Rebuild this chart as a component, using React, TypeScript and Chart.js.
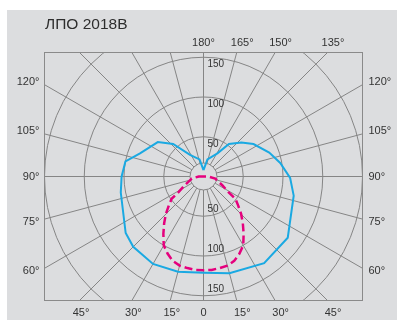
import React, { useEffect, useRef } from "react";
import { Chart, registerables } from "chart.js";

Chart.register(...registerables);

const TITLE = "ЛПО 2018В";

// Intensity curves: signed angle (0 = straight down, + = right side), value in cd
const blueAngles = [-180, -167, -148, -137, -127, -110, -101, -90, -79, -54, -45, -30, -15, 0, 15, 35, 54, 78, 89, 100, 110, 123, 132, 142, 149, 167, 180];
const blueValues = [8, 22, 32, 56, 72, 85, 100, 103, 106, 121, 125, 127, 124, 121, 126, 133, 131, 116, 109, 98, 88, 75, 64, 52, 34, 22, 8];

const pinkAngles = [-180, -90, -80, -65, -58, -55, -50, -45, -40, -35, -30, -25, -20, -15, -10, -5, 0, 5, 10, 15, 20, 25, 30, 35, 40, 45, 50, 55, 58, 65, 80, 90, 180];
const pinkValues = [0, 6, 15, 26, 37, 49, 57, 67, 77, 88, 100, 107, 113, 116, 117, 118, 118, 118, 117, 116, 113, 107, 100, 88, 77, 67, 57, 49, 37, 26, 15, 6, 0];

const angleTicks = [0, 15, 30, 45, 60, 75, 90, 105, 120, 135, 150, 165, 180];
const ringLines = [50, 100, 150, 200];
const ringLabels = [50, 100, 150];
const innerRing = 17;

const toXY = (angles: number[], values: number[]) =>
  angles.map((a, i) => {
    const r = (a * Math.PI) / 180;
    return { x: values[i] * Math.sin(r), y: -values[i] * Math.cos(r) };
  });

const FONT = '"Liberation Sans", Arial, sans-serif';

const polarPlugin = {
  id: "polarGrid",
  beforeDraw(chart: any) {
    const { ctx, width, height } = chart;
    ctx.save();
    ctx.fillStyle = "#ffffff";
    ctx.fillRect(0, 0, width, height);
    ctx.fillStyle = "#dcdddf";
    ctx.fillRect(7, 10, width - 7, height - 10);
    ctx.restore();
  },
  beforeDatasetsDraw(chart: any) {
    const { ctx, chartArea: ca, scales } = chart;
    const cx = scales.x.getPixelForValue(0);
    const cy = scales.y.getPixelForValue(0);
    const k = scales.x.getPixelForValue(1) - cx;
    ctx.save();
    ctx.beginPath();
    ctx.rect(ca.left, ca.top, ca.right - ca.left, ca.bottom - ca.top);
    ctx.clip();
    ctx.strokeStyle = "#858585";
    ctx.lineWidth = 1;
    for (const v of ringLines) {
      ctx.beginPath();
      ctx.arc(cx, cy, v * k, 0, Math.PI * 2);
      ctx.stroke();
    }
    ctx.beginPath();
    ctx.arc(cx, cy, innerRing * k, 0, Math.PI * 2);
    ctx.stroke();
    const r0 = innerRing * k;
    for (const a of angleTicks) {
      for (const s of [-1, 1]) {
        if ((a === 0 || a === 180) && s === -1) continue;
        const rad = (a * Math.PI) / 180;
        const dx = s * Math.sin(rad);
        const dy = Math.cos(rad);
        ctx.beginPath();
        ctx.moveTo(cx + dx * r0, cy + dy * r0);
        ctx.lineTo(cx + dx * 600, cy + dy * 600);
        ctx.stroke();
      }
    }
    ctx.restore();
  },
  afterDatasetsDraw(chart: any) {
    const { ctx, chartArea: ca, scales } = chart;
    const cx = scales.x.getPixelForValue(0);
    const cy = scales.y.getPixelForValue(0);
    const k = scales.x.getPixelForValue(1) - cx;
    ctx.save();
    ctx.strokeStyle = "#8a8a8a";
    ctx.lineWidth = 1;
    ctx.strokeRect(ca.left, ca.top, ca.right - ca.left, ca.bottom - ca.top);

    // radial value labels
    ctx.fillStyle = "#333333";
    ctx.font = `10px ${FONT}`;
    ctx.textAlign = "left";
    ctx.textBaseline = "middle";
    for (const v of ringLabels) {
      ctx.fillText(String(v), cx + 4, cy - v * k + 7);
      ctx.fillText(String(v), cx + 4, cy + v * k - 7);
    }

    // angle labels
    ctx.font = `11px ${FONT}`;
    for (const a of angleTicks) {
      for (const s of [-1, 1]) {
        if ((a === 0 || a === 180) && s === -1) continue;
        const rad = (a * Math.PI) / 180;
        const dx = s * Math.sin(rad);
        const dy = Math.cos(rad);
        const tx = Math.abs(dx) > 1e-9 ? (dx > 0 ? ca.right - cx : cx - ca.left) / Math.abs(dx) : Infinity;
        const ty = Math.abs(dy) > 1e-9 ? (dy > 0 ? ca.bottom - cy : cy - ca.top) / Math.abs(dy) : Infinity;
        const t = Math.min(tx, ty);
        const hx = cx + dx * t;
        const hy = cy + dy * t;
        const text = a === 0 ? "0" : `${a}°`;
        if (tx <= ty) {
          const yy = hy + Math.sign(hy - cy) * 3;
          if (dx < 0) {
            ctx.textAlign = "right";
            ctx.fillText(text, ca.left - 5, yy);
          } else {
            ctx.textAlign = "left";
            ctx.fillText(text, ca.right + 6, yy);
          }
        } else {
          // top edge carries labels only on the right half (title sits on the left)
          if (dy < 0 && dx < 0) continue;
          ctx.textAlign = "center";
          const off = a === 0 || a === 180 ? 0 : dx > 0 ? 5.5 : 1.5;
          const yy = dy > 0 ? ca.bottom + 12 : ca.top - 10;
          ctx.fillText(text, hx + off, yy);
        }
      }
    }

    // title
    ctx.font = `15.5px ${FONT}`;
    ctx.textAlign = "left";
    ctx.textBaseline = "alphabetic";
    ctx.fillStyle = "#2e2e2e";
    ctx.fillText(TITLE, 45, 29);
    ctx.restore();
  },
};

export default function App() {
  const ref = useRef<HTMLCanvasElement | null>(null);
  useEffect(() => {
    if (!ref.current) return;
    const chart = new Chart(ref.current, {
      type: "scatter",
      data: {
        datasets: [
          {
            label: "C0",
            data: toXY(blueAngles, blueValues),
            showLine: true,
            borderColor: "#1aa9e2",
            borderWidth: 2,
            pointRadius: 0,
            tension: 0,
            fill: false,
          },
          {
            label: "C90",
            data: toXY(pinkAngles, pinkValues),
            showLine: true,
            borderColor: "#e5007d",
            borderWidth: 2.5,
            borderDash: [8, 4],
            pointRadius: 0,
            tension: 0,
            fill: false,
          },
        ],
      },
      options: {
        animation: false,
        responsive: false,
        devicePixelRatio: 1,
        layout: { padding: { left: 44.5, top: 52.5, right: 34.5, bottom: 19.5 } },
        scales: {
          x: { type: "linear", min: -200, max: 200, display: false },
          y: { type: "linear", min: -156, max: 156, display: false },
        },
        plugins: {
          legend: { display: false },
          tooltip: { enabled: false },
          title: { display: false },
        },
      },
      plugins: [polarPlugin],
    });
    return () => chart.destroy();
  }, []);
  return (
    <div style={{ position: "absolute", left: 0, top: 0, width: 397, height: 320 }}>
      <canvas ref={ref} width={397} height={320} style={{ width: 397, height: 320 }} />
    </div>
  );
}
